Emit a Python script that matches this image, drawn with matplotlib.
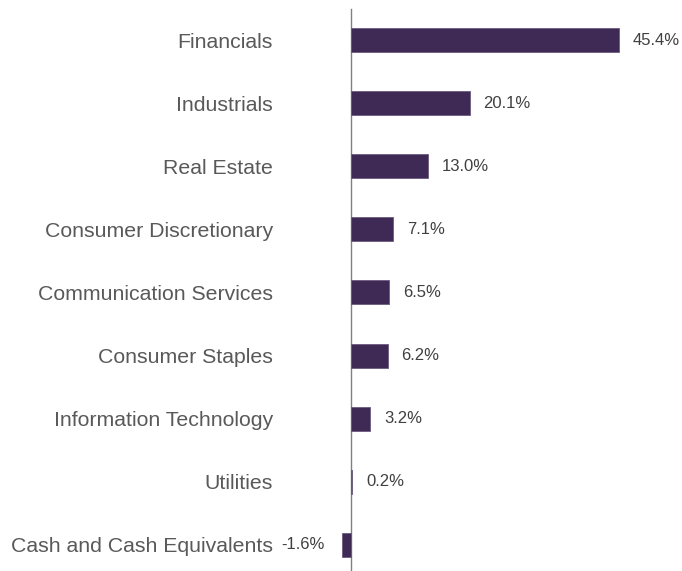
import matplotlib.pyplot as plt

sectors = ['Financials', 'Industrials', 'Real Estate', 'Consumer Discretionary',
           'Communication Services', 'Consumer Staples', 'Information Technology',
           'Utilities', 'Cash and Cash Equivalents']
weights = [45.4, 20.1, 13.0, 7.1, 6.5, 6.2, 3.2, 0.2, -1.6]

plt.rcParams['font.family'] = ['Liberation Sans', 'DejaVu Sans']

fig = plt.figure(figsize=(6.82, 5.71), dpi=100)
# axes from x=330px to right edge, top at ~8.5px
ax = fig.add_axes([330 / 682, 0, 352 / 682, 1 - 8.5 / 571])

# spine first - moving it resets the ticks
for s in ['top', 'right', 'bottom']:
    ax.spines[s].set_visible(False)
ax.spines['left'].set_position(('data', 0))
ax.spines['left'].set_color('#808080')
ax.spines['left'].set_linewidth(1)

pos = list(range(len(sectors)))
ax.barh(pos, weights, height=0.38, color='#3f2a56', edgecolor='#6b5a80',
        linewidth=0.6, zorder=3)

ax.set_xlim(-21 / 5.9, (682 - 351) / 5.9)
ax.set_ylim(-0.5 + 562.5 / 63.1, -0.5)

for i, w in enumerate(weights):
    if w >= 0:
        ax.text(w + 14 / 5.9, i, f'{w:.1f}%', va='center', ha='left',
                fontsize=12, color='#404040')
    else:
        ax.text(w - 17 / 5.9, i, f'{w:.1f}%', va='center', ha='right',
                fontsize=12, color='#404040')

ax.set_yticks(pos)
ax.set_yticklabels(sectors)
ax.tick_params(axis='y', length=0, pad=78 * 72 / 100, labelcolor='#595959',
               labelsize=15.3)
ax.set_xticks([])

fig.savefig('out.png', dpi=100)
